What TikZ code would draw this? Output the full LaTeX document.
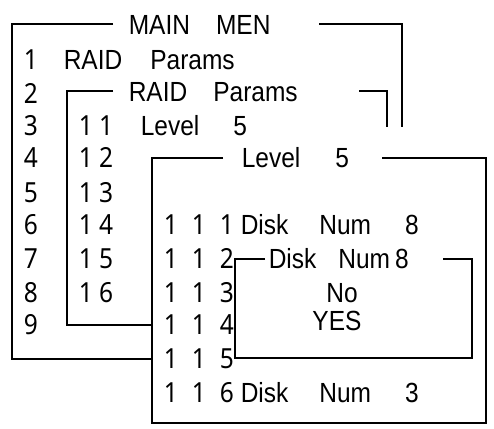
\documentclass[tikz,border=0pt]{standalone}
\usepackage{graphicx}
\usepackage{fontspec}
\setmainfont{Liberation Sans}
\newfontfamily\digitfont{Noto Sans}
\usetikzlibrary{positioning}
\newcommand{\tallt}[1]{\scalebox{1}[1.13]{#1}}

\begin{document}
\begin{tikzpicture}[x=1pt,y=-1pt,line width=1.6pt,
    txt/.style={font=\fontsize{24.5}{29}\selectfont,inner sep=0pt,text height=19.8pt,text depth=0pt,anchor=west},
    dig/.style={font=\digitfont\fontsize{24.5}{29}\selectfont,inner sep=0pt,text height=19.8pt,text depth=0pt}]
    \useasboundingbox (0,0) rectangle (494,428);

    % frames
    \draw (113,24) -- (12,24) -- (12,359) -- (152,359);
    \draw (319,24) -- (402,24) -- (402,127);
    \draw (113,91) -- (67,91) -- (67,325) -- (152,325);
    \draw (359,91) -- (387,91) -- (387,127);
    \draw (223,158) -- (152,158) -- (152,423) -- (486,423) -- (486,158) -- (382,158);
    \draw (265,259) -- (235,259) -- (235,358) -- (472,358) -- (472,259) -- (443,259);

    % titles
    \node[txt] (mainmen) at (128,25) {\tallt{MAIN\hspace{26pt}MEN}};
    \node[txt] (raidtitle) at (128,92) {\tallt{RAID\hspace{26pt}Params}};
    \node[txt] (leveltitle) at (241,158) {\tallt{Level\hspace{35pt}5}};
    \node[txt] (disktitle) at (268,259) {\tallt{Disk\hspace{22pt}Num\hspace{5pt}8}};

    % menu entries
    \node[txt] (raid) at (63,60) {\tallt{RAID\hspace{28pt}Params}};
    \node[txt] (level) at (140,126) {\tallt{Level\hspace{34pt}5}};
    \node[txt] (disk) at (240,225) {\tallt{Disk\hspace{31pt}Num\hspace{34pt}8}};
    \node[txt] (diskb) at (240,393) {\tallt{Disk\hspace{31pt}Num\hspace{34pt}3}};
    \node[txt,anchor=center] (no) at (342,293) {\tallt{No}};
    \node[txt,anchor=center] (yes) at (337,321) {\tallt{YES}};

    % number columns
    \foreach \n/\y in {1/60,2/94,3/126,4/158,5/193,6/225,7/259,8/293,9/325}
        \node[dig] (c\n) at (31,\y) {\tallt{\n}};
    \foreach \n/\y in {1/126,2/158,3/193,4/225,5/259,6/293}
        \node[dig] (cc\n) at (96,\y) {\tallt{1 \n}};
    \foreach \n/\y in {1/225,2/259,3/293,4/325,5/359,6/393}
        \node[dig] (ccc\n) at (199,\y) {\tallt{1\hspace{14pt}1\hspace{14pt}\n}};

\end{tikzpicture}
\end{document}
